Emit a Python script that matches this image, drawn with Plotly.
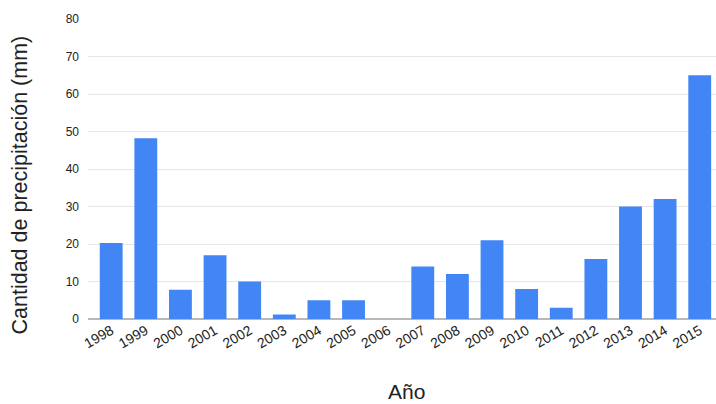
import plotly.graph_objects as go

years = ["1998", "1999", "2000", "2001", "2002", "2003", "2004", "2005", "2006",
         "2007", "2008", "2009", "2010", "2011", "2012", "2013", "2014", "2015"]
precip = [20.3, 48.2, 7.8, 17, 10, 1.2, 5, 5, 0, 14, 12, 21, 8, 3, 16, 30, 32, 65]
y_ticks = [0, 10, 20, 30, 40, 50, 60, 70, 80]

fig = go.Figure(go.Bar(
    x=years, y=precip,
    marker=dict(color="#4285F4", line=dict(width=0)),
    width=0.66,
))

fig.update_layout(
    width=716, height=404,
    margin=dict(l=88, r=0, t=19, b=85),
    paper_bgcolor="white", plot_bgcolor="white",
    font=dict(family="Liberation Sans, Arial, sans-serif", color="#222222"),
    showlegend=False,
    xaxis=dict(
        type="category",
        range=[-0.67, 17.47],
        tickangle=-30,
        tickfont=dict(size=14, color="#222222"),
        showgrid=False,
        ticks="",
        showline=False,
    ),
    yaxis=dict(
        range=[0, 80],
        tickvals=y_ticks,
        tickfont=dict(size=12, color="#222222"),
        showgrid=True, gridcolor="#e6e6e6", gridwidth=1,
        zeroline=True, zerolinecolor="#b8b8b8", zerolinewidth=2,
        ticks="", ticklabelstandoff=8,
    ),
    annotations=[
        dict(text="Cantidad de precipitación (mm)", xref="paper", yref="paper",
             x=-88/628 + 20/628, y=0.445, xanchor="center", yanchor="middle",
             textangle=-90, showarrow=False,
             font=dict(size=21.5, color="#222222")),
        dict(text="Año", xref="paper", yref="paper",
             x=(406-88)/628, y=-(391-319)/300, xanchor="center", yanchor="middle",
             showarrow=False, font=dict(size=21, color="#222222")),
    ],
)

fig.write_html(
    "out.html",
    config={"displayModeBar": False},
    post_script="document.body.style.margin='0';document.body.style.overflow='hidden';",
)
